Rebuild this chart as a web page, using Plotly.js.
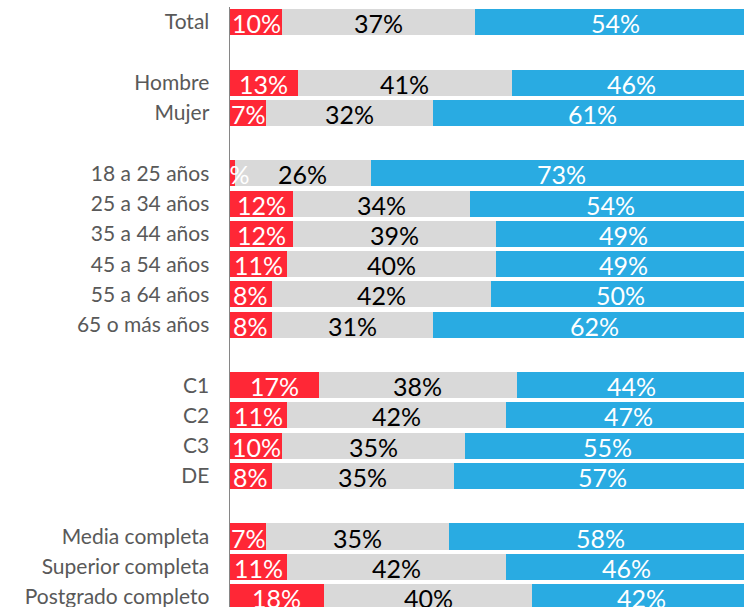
<!DOCTYPE html>
<html><head><meta charset="utf-8">
<script src="https://cdn.plot.ly/plotly-3.0.1.min.js"></script>
<style>html,body{margin:0;padding:0;background:#fff;}</style>
</head><body>
<div id="chart" style="width:744px;height:607px;"></div>
<script>
var categories = ["Total"," ","Hombre","Mujer","  ","18 a 25 años","25 a 34 años","35 a 44 años","45 a 54 años","55 a 64 años","65 o más años","   ","C1","C2","C3","DE","    ","Media completa","Superior completa","Postgrado completo"];
var redVals  = [10,null,13,7,null,1,12,12,11,8,8,null,17,11,10,8,null,7,11,18];
var grayVals = [37,null,41,32,null,26,34,39,40,42,31,null,38,42,35,35,null,35,42,40];
var blueVals = [54,null,46,61,null,73,54,49,49,50,62,null,44,47,55,57,null,58,46,42];

var RED = "#FF2736", GRAY = "#D9D9D9", BLUE = "#29ABE2";
function bar(vals, color){
  return {type:"bar", orientation:"h", y:categories, x:vals, marker:{color:color}, hoverinfo:"none", showlegend:false};
}
var traces = [bar(redVals,RED), bar(grayVals,GRAY), bar(blueVals,BLUE)];

var annotations = [];
var series = [[redVals,"#FFFFFF"],[grayVals,"#000000"],[blueVals,"#FFFFFF"]];
categories.forEach(function(c,i){
  var start = 0;
  series.forEach(function(s){
    var v = s[0][i];
    if (v === null) return;
    annotations.push({x:start+v/2, y:c, xref:"x", yref:"y", text:v+"%", showarrow:false,
      font:{family:"Lato, 'Open Sans', sans-serif", size:25, color:s[1]}, yshift:-1});
    start += v;
  });
});

var layout = {
  width:744, height:607,
  margin:{l:230, r:0, t:7, b:0, pad:0},
  barmode:"stack", bargap:0.14,
  paper_bgcolor:"#fff", plot_bgcolor:"#fff",
  xaxis:{range:[0,98.6], showgrid:false, zeroline:false, showticklabels:false, ticks:"", fixedrange:true},
  yaxis:{type:"category", range:[19.33,-0.5], showgrid:false, zeroline:false,
    showline:true, linecolor:"#868686", linewidth:1.5,
    ticks:"outside", ticklen:15, tickcolor:"rgba(0,0,0,0)",
    tickfont:{family:"Lato, 'Open Sans', sans-serif", size:21, color:"#595959"}},
  annotations:annotations,
  font:{family:"Lato, sans-serif"}
};
Plotly.newPlot("chart", traces, layout, {displayModeBar:false, staticPlot:true});
</script>
</body></html>
